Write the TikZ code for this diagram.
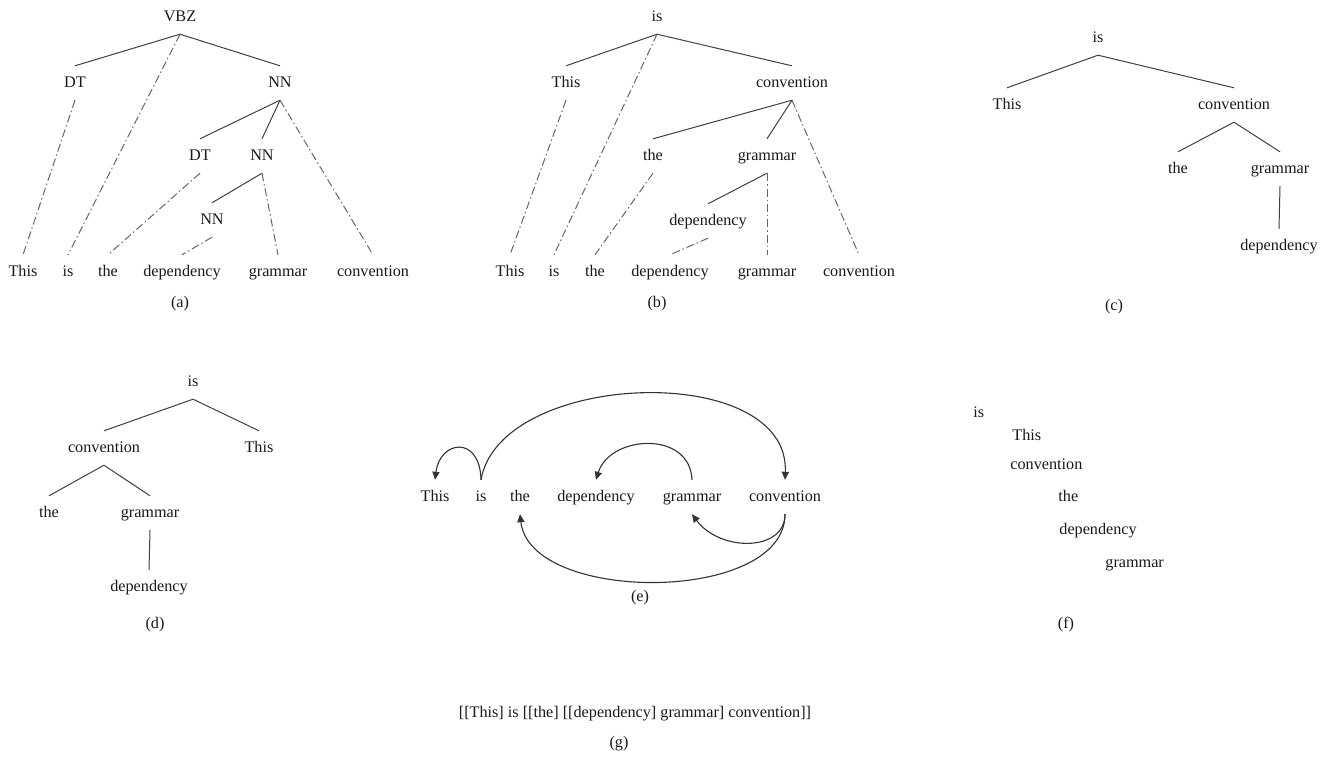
\documentclass[tikz,border=0pt]{standalone}
\usepackage{fontspec}
\setmainfont{Liberation Serif}
\newfontfamily\timesfam{Liberation Serif}
\usetikzlibrary{arrows.meta}
\begin{document}
\begin{tikzpicture}[x=0.5pt,y=-0.5pt,
  w/.style={font=\timesfam\fontsize{8.1}{10}\selectfont, text=black!90, inner xsep=1pt, inner ysep=4.4pt, text height=6pt, text depth=2pt},
  fl/.style={w, anchor=west},
  tl/.style={draw=black!75, line width=0.5pt},
  dl/.style={draw=black!60, line width=0.5pt, dash pattern=on 4pt off 1.5pt on 0.7pt off 1.5pt},
  arc/.style={draw=black!80, line width=0.55pt, -{Triangle[length=4pt,width=3.6pt]}}
]
\useasboundingbox (0,0) rectangle (1335,761);

% ---------- (a) ----------
\node[w] (avbz) at (180,17) {VBZ};
\node[w] (adt)  at (75,83) {DT};
\node[w] (ann)  at (280,83) {NN};
\node[w] (adt2) at (200,156) {DT};
\node[w] (ann2) at (262,156) {NN};
\node[w] (ann3) at (212,220) {NN};
\node[w] (aw1) at (23,272) {This};
\node[w] (aw2) at (68,272) {is};
\node[w] (aw3) at (108,272) {the};
\node[w] (aw4) at (182,272) {dependency};
\node[w] (aw5) at (278,272) {grammar};
\node[w] (aw6) at (373,272) {convention};
\node[w] (alab) at (180,303) {(a)};
\draw[tl] (avbz.south) -- (adt.north);
\draw[tl] (avbz.south) -- (ann.north);
\draw[dl] (avbz.south) -- (aw2.north);
\draw[dl] (adt.south) -- (aw1.north);
\draw[tl] (ann.south) -- (adt2.north);
\draw[tl] (ann.south) -- (ann2.north);
\draw[dl] (ann.south) -- (aw6.north);
\draw[dl] (adt2.south) -- (aw3.north);
\draw[tl] (ann2.south) -- (ann3.north);
\draw[dl] (ann2.south) -- (aw5.north);
\draw[dl] (ann3.south) -- (aw4.north);

% ---------- (b) ----------
\node[w] (bis)   at (657,17) {is};
\node[w] (bthis) at (566,83) {This};
\node[w] (bconv) at (792,83) {convention};
\node[w] (bthe)  at (653,156) {the};
\node[w] (bgram) at (767,156) {grammar};
\node[w] (bdep)  at (708,221) {dependency};
\node[w] (bw1) at (510,272) {This};
\node[w] (bw2) at (554,272) {is};
\node[w] (bw3) at (595,272) {the};
\node[w] (bw4) at (670,272) {dependency};
\node[w] (bw5) at (767,272) {grammar};
\node[w] (bw6) at (859,272) {convention};
\node[w] (blab) at (657,303) {(b)};
\draw[tl] (bis.south) -- (bthis.north);
\draw[tl] (bis.south) -- (bconv.north);
\draw[dl] (bis.south) -- (bw2.north);
\draw[dl] (bthis.south) -- (bw1.north);
\draw[tl] (bconv.south) -- (bthe.north);
\draw[tl] (bconv.south) -- (bgram.north);
\draw[dl] (bconv.south) -- (bw6.north);
\draw[dl] (bthe.south) -- (bw3.north);
\draw[tl] (bgram.south) -- (bdep.north);
\draw[dl] (bgram.south) -- (bw5.north);
\draw[dl] (bdep.south) -- (bw4.north);

% ---------- (c) ----------
\node[w] (cis)   at (1098,38) {is};
\node[w] (cthis) at (1007,105) {This};
\node[w] (cconv) at (1234,105) {convention};
\node[w] (cthe)  at (1178,169) {the};
\node[w] (cgram) at (1280,169) {grammar};
\node[w] (cdep)  at (1279,246) {dependency};
\node[w] (clab)  at (1114,306) {(c)};
\draw[tl] (cis.south) -- (cthis.north);
\draw[tl] (cis.south) -- (cconv.north);
\draw[tl] (cconv.south) -- (cthe.north);
\draw[tl] (cconv.south) -- (cgram.north);
\draw[tl] (cgram.south) -- (cdep.north);

% ---------- (d) ----------
\node[w] (dis)   at (193,382) {is};
\node[w] (dconv) at (104,448) {convention};
\node[w] (dthis) at (259,448) {This};
\node[w] (dthe)  at (49,513) {the};
\node[w] (dgram) at (150,513) {grammar};
\node[w] (ddep)  at (149,587) {dependency};
\node[w] (dlab)  at (155,624) {(d)};
\draw[tl] (dis.south) -- (dconv.north);
\draw[tl] (dis.south) -- (dthis.north);
\draw[tl] (dconv.south) -- (dthe.north);
\draw[tl] (dconv.south) -- (dgram.north);
\draw[tl] (dgram.south) -- (ddep.north);

% ---------- (e) ----------
\node[w] (ew1) at (435,497) {This};
\node[w] (ew2) at (481,497) {is};
\node[w] (ew3) at (520,497) {the};
\node[w] (ew4) at (596,497) {dependency};
\node[w] (ew5) at (692,497) {grammar};
\node[w] (ew6) at (785,497) {convention};
\node[w] (elab) at (640,597) {(e)};
\draw[arc] (ew2.north) .. controls (480,435) and (440,440) .. (ew1.north);
\draw[arc] (ew2.north) .. controls (500,370) and (790,360) .. (ew6.north);
\draw[arc] (ew5.north) .. controls (690,430) and (610,435) .. (ew4.north);
\draw[arc] (ew6.south) .. controls (785,552) and (720,552) .. (ew5.south);
\draw[arc] (ew6.south) .. controls (785,604) and (530,604) .. (ew3.south);

% ---------- (f) ----------
\node[fl] (fis)   at (971,413) {is};
\node[fl] (fthis) at (1010,436) {This};
\node[fl] (fconv) at (1008,465) {convention};
\node[fl] (fthe)  at (1056,497) {the};
\node[fl] (fdep)  at (1057,530) {dependency};
\node[fl] (fgram) at (1103,563) {grammar};
\node[w] (flab)  at (1066,624) {(f)};

% ---------- (g) ----------
\node[w] (gtxt) at (635,713) {[[This] is [[the] [[dependency] grammar] convention]]};
\node[w] (glab) at (619,743) {(g)};
\end{tikzpicture}
\end{document}
